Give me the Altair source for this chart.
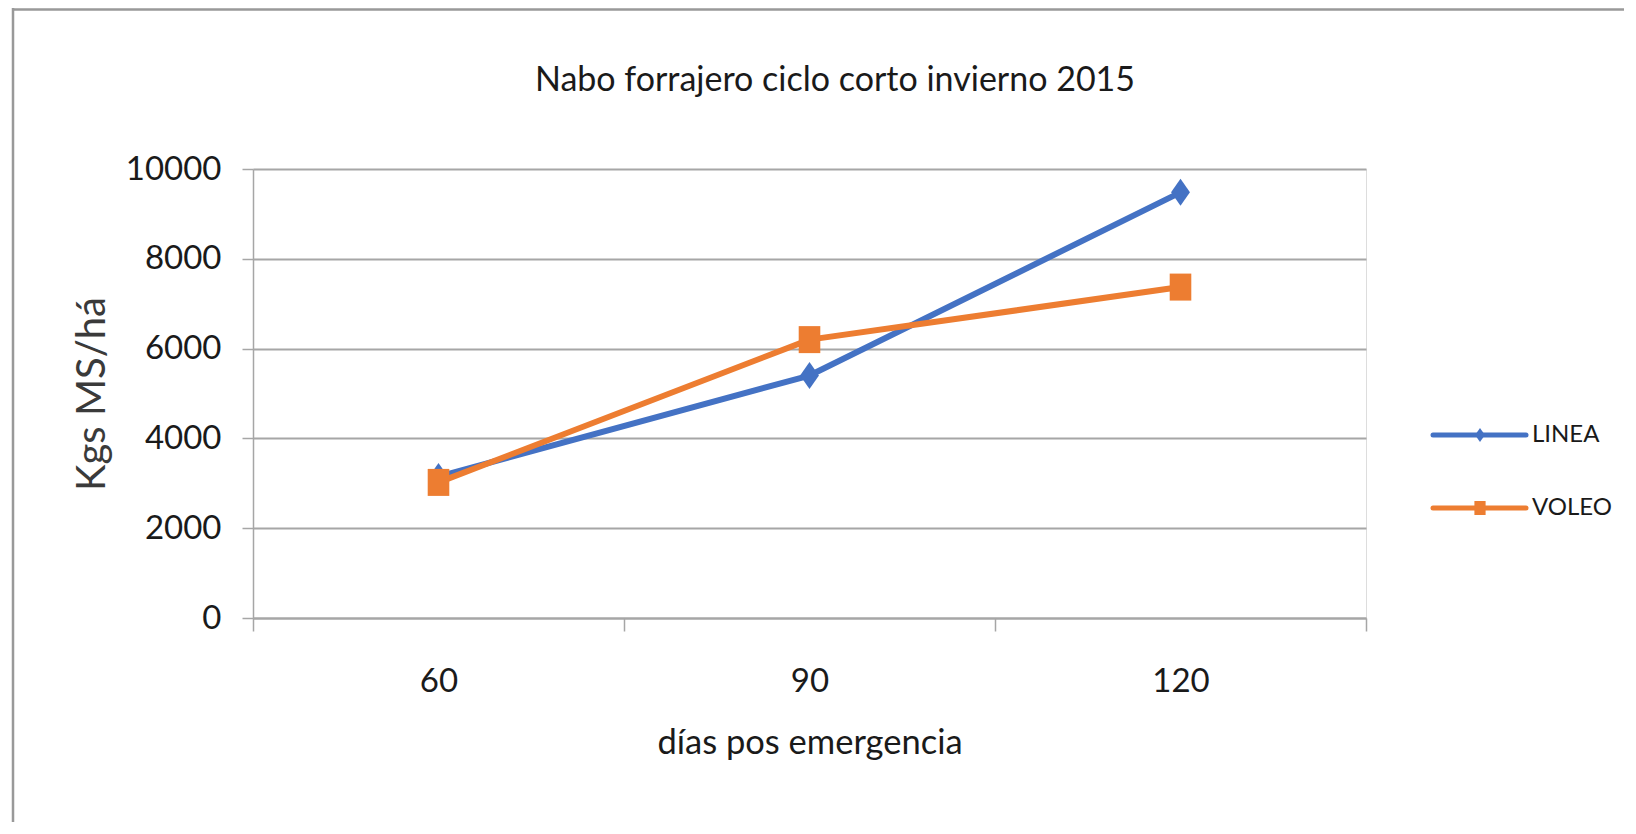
import altair as alt
import pandas as pd

# ---- data ----
days = [60, 90, 120]
series = ["LINEA", "VOLEO"]
linea = [3150, 5400, 9480]
voleo = [3020, 6200, 7370]
y_ticks = [0, 2000, 4000, 6000, 8000, 10000]
colors = ["#4472C4", "#ED7D31"]

title_text = "Nabo forrajero ciclo corto invierno 2015"
x_title = "días pos emergencia"
y_title = "Kgs MS/há"

rows = []
for s, vals in zip(series, [linea, voleo]):
    for d, v in zip(days, vals):
        rows.append({"day": d, "series": s, "value": v})
df = pd.DataFrame(rows)
leg_df = pd.DataFrame({"series": series})
one_df = pd.DataFrame({"t": [title_text]})

# ---- layout ----
W, H = 1113, 449
PL, PT = 245, 161
PR, PB = 258, 204
FONT = "Lato, Liberation Sans, sans-serif"
GRAY = "#a6a6a6"
TXT = "#1a1a1a"

diamond = "M0,-1L0.7,0L0,1L-0.7,0Z"
square = "M-0.8,-1L0.8,-1L0.8,1L-0.8,1Z"

color_scale = alt.Scale(domain=series, range=colors)
shape_scale = alt.Scale(domain=series, range=[diamond, square])

x_axis = alt.Axis(
    title=x_title, tickBand="extent", grid=False, labelAngle=0,
    labelFont=FONT, labelFontSize=33, labelColor=TXT, labelBaseline="alphabetic",
    labelPadding=60, tickSize=13, tickColor=GRAY, tickWidth=1.5,
    domainColor=GRAY, domainWidth=2,
    titleFont=FONT, titleFontSize=34.5, titleFontWeight="normal", titleColor=TXT,
    titleX=W / 2, titleY=135, titleBaseline="alphabetic", titleAlign="center",
)
y_axis = alt.Axis(
    title=y_title, values=y_ticks, format="d", grid=True, gridColor=GRAY, gridWidth=2,
    labelFont=FONT, labelFontSize=33, labelColor=TXT, labelPadding=21,
    tickSize=11, tickColor=GRAY, tickWidth=1.5, domainColor=GRAY, domainWidth=1.5,
    titleFont=FONT, titleFontSize=40, titleFontWeight="normal", titleColor="#3a3a3a",
    titleX=-161, titleY=H / 2, titleAngle=270, titleBaseline="middle", titleAlign="center",
)

x_enc = alt.X("day:O", sort=days,
              scale=alt.Scale(type="band", paddingInner=0, paddingOuter=0),
              bandPosition=0.5, axis=x_axis)
y_enc = alt.Y("value:Q", scale=alt.Scale(domain=[0, 10000], nice=False), axis=y_axis)

base = alt.Chart(df).encode(
    x=x_enc, y=y_enc,
    color=alt.Color("series:N", scale=color_scale, legend=None),
)
lines = base.mark_line(strokeWidth=6, strokeJoin="round")
points = base.mark_point(filled=True, opacity=1, size=729).encode(
    shape=alt.Shape("series:N", scale=shape_scale, legend=None)
)
main = alt.layer(lines, points)

leg_y = alt.Y("series:N", scale=alt.Scale(type="point", domain=series,
                                          range=[435 - 169, 508 - 169], padding=0),
              axis=None)
leg_base = alt.Chart(leg_df).encode(
    y=leg_y, color=alt.Color("series:N", scale=color_scale, legend=None)
)
leg_rule = leg_base.mark_rule(strokeWidth=5, strokeCap="round").encode(
    x=alt.value(1433 - 253), x2=alt.value(1526 - 253)
)
leg_pt = leg_base.mark_point(filled=True, opacity=1, size=196).encode(
    x=alt.value(1480 - 253),
    shape=alt.Shape("series:N", scale=shape_scale, legend=None),
)
leg_text = alt.Chart(leg_df).mark_text(
    align="left", baseline="middle", font=FONT, fontSize=24, color=TXT
).encode(x=alt.value(1532 - 253), y=leg_y, text="series:N")
legend = alt.layer(leg_rule, leg_pt, leg_text)

title = alt.Chart(one_df).mark_text(
    align="center", baseline="alphabetic", font=FONT, fontSize=34, color=TXT
).encode(x=alt.value(835 - 253), y=alt.value(91 - 169), text="t:N")

frame_top = alt.Chart(one_df).mark_rule(color="#999999", strokeWidth=2.5).encode(
    x=alt.value(12 - 253), x2=alt.value(1636 - 253), y=alt.value(-159.5)
)
frame_left = alt.Chart(one_df).mark_rule(color="#999999", strokeWidth=2.5).encode(
    x=alt.value(13 - 253), y=alt.value(-161), y2=alt.value(H + PB)
)

chart = alt.layer(frame_top, frame_left, title, main, legend).resolve_scale(
    y="independent"
).properties(
    width=W, height=H,
    autosize=alt.AutoSizeParams(type="none"),
    padding={"left": PL, "top": PT, "right": PR, "bottom": PB},
).configure_view(stroke=None).configure(background="white")

chart.save("out.html", embed_options={"renderer": "svg", "actions": False})
